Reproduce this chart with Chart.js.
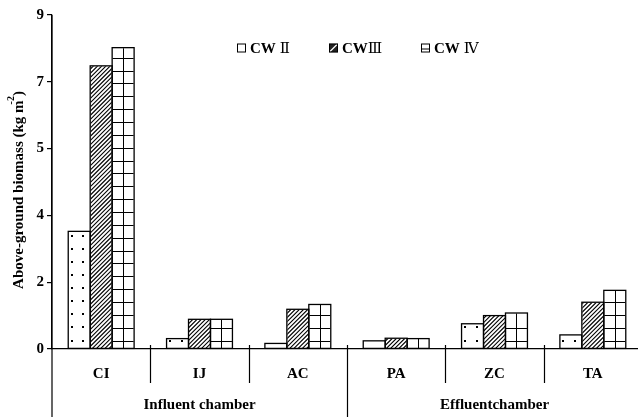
<!DOCTYPE html>
<html>
<head>
<meta charset="utf-8">
<script src="https://cdn.jsdelivr.net/npm/chart.js@4"></script>
<style>
  html, body { margin: 0; padding: 0; background: #fff; }
  #wrap { width: 638px; height: 417px; overflow: hidden; position: relative; }
  canvas { display: block; }
</style>
</head>
<body>
<div id="wrap"><canvas id="c" width="648" height="417"></canvas></div>
<script>
// Above-ground biomass per species and wetland (kg m-2)
const categories = ['CI', 'IJ', 'AC', 'PA', 'ZC', 'TA'];
const seriesNames = ['CW Ⅱ', 'CWⅢ', 'CW Ⅳ'];
const cw2 = [3.17, 0.28, 0.15, 0.22, 0.68, 0.38];
const cw3 = [7.63, 0.80, 1.07, 0.29, 0.90, 1.26];
const cw4 = [8.12, 0.80, 1.20, 0.28, 0.97, 1.58];
const yTicks = [0, 1.8, 3.6, 5.4, 7.2, 9];
const chamberNames = ['Influent chamber', 'Effluentchamber'];
const chamberSpans = [[0, 2], [3, 5]];

const SERIF = '"Liberation Serif", "Times New Roman", serif';
const NUMERAL_FONT = '"Liberation Serif", "DejaVu Serif", "Noto Sans CJK SC", serif';

// fill styles drawn inside each bar
function fillDots(ctx, l, t, r, b) {
  ctx.fillStyle = '#000';
  for (let y = 340.5; y > t + 1; y -= 13.1) {
    for (const dx of [3.5, 15]) {
      const x = Math.round(l + dx);
      if (x < r - 1.5) ctx.fillRect(x - 1, Math.round(y) - 1, 2, 2);
    }
  }
}
function fillHatch(ctx, l, t, r, b) {
  const h = b - t;
  ctx.strokeStyle = '#000';
  ctx.lineWidth = 1.1;
  ctx.beginPath();
  const start = Math.floor((l - h - 6) / 4.2) * 4.2;
  for (let k = start; k < r + 6; k += 4.2) {
    ctx.moveTo(k, b);
    ctx.lineTo(k + h, t);
  }
  ctx.stroke();
}
function fillGrid(ctx, l, t, r, b) {
  ctx.strokeStyle = '#000';
  ctx.lineWidth = 1;
  ctx.beginPath();
  const mx = Math.round((l + r) / 2) + 0.5;
  ctx.moveTo(mx, t);
  ctx.lineTo(mx, b);
  for (let y = 340.5; y > t + 2; y -= 12.85) {
    const yy = Math.round(y) + 0.5;
    ctx.moveTo(l, yy);
    ctx.lineTo(r, yy);
  }
  ctx.stroke();
}
const fillers = [fillDots, fillHatch, fillGrid];

const patternPlugin = {
  id: 'barPatterns',
  afterDatasetsDraw(chart) {
    const ctx = chart.ctx;
    chart.data.datasets.forEach((ds, di) => {
      const meta = chart.getDatasetMeta(di);
      meta.data.forEach(bar => {
        const p = bar.getProps(['x', 'y', 'base', 'width'], true);
        const l = p.x - p.width / 2, r = p.x + p.width / 2;
        const t = Math.min(p.y, p.base), b = Math.max(p.y, p.base);
        ctx.save();
        ctx.beginPath();
        ctx.rect(l + 0.5, t + 0.5, r - l - 1, b - t - 0.5);
        ctx.clip();
        fillers[di](ctx, l, t, r, b);
        ctx.restore();
        ctx.save();
        ctx.strokeStyle = '#000';
        ctx.lineWidth = 1.3;
        ctx.strokeRect(l, t, r - l, b - t);
        ctx.restore();
      });
    });
  }
};

const decorPlugin = {
  id: 'decor',
  afterDraw(chart) {
    const ctx = chart.ctx;
    const xs = chart.scales.x, ys = chart.scales.y;
    const y0 = ys.getPixelForValue(0);
    const left = chart.chartArea.left;
    ctx.save();
    ctx.strokeStyle = '#000';
    ctx.lineWidth = 1.2;
    ctx.beginPath();
    // y axis runs down past the category band
    ctx.moveTo(left, chart.chartArea.top);
    ctx.lineTo(left, 417);
    // category and chamber separators
    for (let i = 0; i < categories.length - 1; i++) {
      const x = Math.round((xs.getPixelForValue(i) + xs.getPixelForValue(i + 1)) / 2) + 0.5;
      const isChamber = chamberSpans.some(s => s[1] === i);
      ctx.moveTo(x, y0 - 4);
      ctx.lineTo(x, isChamber ? 417 : 383);
    }
    ctx.stroke();

    // chamber labels
    ctx.fillStyle = '#000';
    ctx.font = 'bold 15px ' + SERIF;
    ctx.textAlign = 'center';
    ctx.textBaseline = 'middle';
    chamberNames.forEach((name, gi) => {
      const [a, b] = chamberSpans[gi];
      const cx = (xs.getPixelForValue(a) + xs.getPixelForValue(b)) / 2;
      ctx.fillText(name, cx, 405);
    });

    // y axis title with superscript
    ctx.save();
    ctx.translate(18, 190);
    ctx.rotate(-Math.PI / 2);
    const main = 'Above-ground biomass (kg m';
    ctx.font = 'bold 15px ' + SERIF;
    const wMain = ctx.measureText(main).width;
    ctx.font = 'bold 10px ' + SERIF;
    const wSup = ctx.measureText('-2').width;
    ctx.font = 'bold 15px ' + SERIF;
    const wEnd = ctx.measureText(')').width;
    const total = wMain + wSup - 4 + wEnd;
    let x = -total / 2;
    ctx.textAlign = 'left';
    ctx.textBaseline = 'alphabetic';
    ctx.fillText(main, x, 5);
    x += wMain - 4;
    ctx.font = 'bold 10px ' + SERIF;
    ctx.fillText('-2', x, -4);
    x += wSup;
    ctx.font = 'bold 15px ' + SERIF;
    ctx.fillText(')', x, 5);
    ctx.restore();

    // legend
    const legendX = [237, 329, 421];
    const ly = 48;
    seriesNames.forEach((name, i) => {
      const bx = legendX[i], by = ly - 4.5, s = 9;
      ctx.save();
      ctx.fillStyle = '#fff';
      ctx.fillRect(bx, by, s, s);
      ctx.beginPath();
      ctx.rect(bx, by, s, s);
      ctx.clip();
      if (i === 1) {
        ctx.fillStyle = '#222';
        ctx.fillRect(bx, by, s, s);
        ctx.strokeStyle = '#fff';
        ctx.lineWidth = 1.3;
        ctx.beginPath();
        ctx.moveTo(bx + 1, by + s - 1);
        ctx.lineTo(bx + s - 1, by + 1);
        ctx.stroke();
      } else if (i === 2) {
        ctx.strokeStyle = '#000';
        ctx.lineWidth = 1;
        ctx.beginPath();
        ctx.moveTo(bx, by + 5.5);
        ctx.lineTo(bx + s, by + 5.5);
        ctx.stroke();
      }
      ctx.restore();
      ctx.strokeStyle = '#000';
      ctx.lineWidth = 1;
      ctx.strokeRect(bx + 0.5, by + 0.5, s - 1, s - 1);

      const m = name.match(/^(CW)(\s*)(.+)$/);
      ctx.fillStyle = '#000';
      ctx.textAlign = 'left';
      ctx.textBaseline = 'middle';
      ctx.font = 'bold 15px ' + SERIF;
      let tx = bx + 13;
      ctx.fillText(m[1], tx, ly + 1);
      tx += ctx.measureText(m[1]).width + (m[2] ? 4 : 0);
      ctx.font = '15px ' + NUMERAL_FONT;
      ctx.fillText(m[3], tx, ly + 1);
    });
    ctx.restore();
  }
};

const chart = new Chart(document.getElementById('c'), {
  type: 'bar',
  data: {
    labels: categories,
    datasets: [cw2, cw3, cw4].map((vals, i) => ({
      label: seriesNames[i],
      data: vals,
      backgroundColor: '#fff',
      borderColor: '#000',
      borderWidth: 0,
      barPercentage: 1.0,
      categoryPercentage: 0.67
    }))
  },
  options: {
    responsive: false,
    animation: false,
    layout: { padding: { top: 15, right: 6, left: 0, bottom: 0 } },
    plugins: { legend: { display: false }, tooltip: { enabled: false } },
    scales: {
      x: {
        grid: { display: false, drawTicks: false },
        border: { display: true, color: '#000', width: 1.2 },
        ticks: {
          color: '#000',
          padding: 16,
          font: { family: SERIF, size: 15, weight: 'bold' }
        },
        afterFit(scale) { scale.height = 68; }
      },
      y: {
        min: 0,
        max: 9,
        afterBuildTicks(scale) { scale.ticks = yTicks.map(v => ({ value: v })); },
        grid: { drawOnChartArea: false, drawTicks: true, tickLength: 5, color: '#000', lineWidth: 1.2 },
        border: { display: true, color: '#000', width: 1.2 },
        ticks: {
          color: '#000',
          padding: 3,
          font: { family: SERIF, size: 15, weight: 'bold' },
          callback: v => String(Math.round(v))
        },
        afterFit(scale) { scale.width = 52; }
      }
    }
  },
  plugins: [patternPlugin, decorPlugin]
});
</script>
</body>
</html>
